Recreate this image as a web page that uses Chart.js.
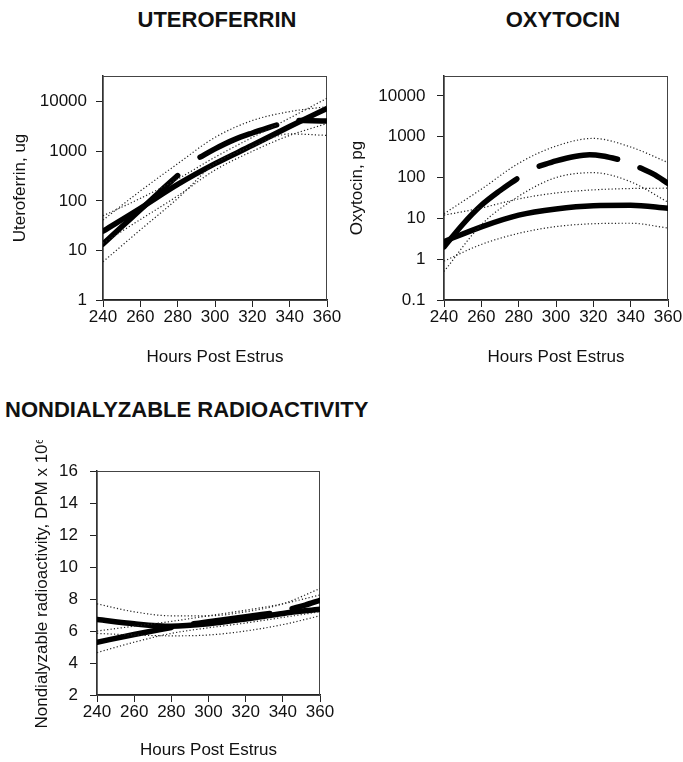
<!DOCTYPE html>
<html><head><meta charset="utf-8">
<script src="https://cdn.jsdelivr.net/npm/chart.js@4.4.1/dist/chart.umd.min.js"></script>
<style>
html,body{margin:0;padding:0;background:#fff;}
body{width:683px;height:762px;position:relative;overflow:hidden;font-family:"Liberation Sans",Arial,sans-serif;}
canvas{position:absolute;}
.t{position:absolute;font-weight:bold;font-size:22px;line-height:26px;color:#111;white-space:nowrap;}
</style></head><body>
<div class="t" style="left:0;width:434px;top:7px;text-align:center">UTEROFERRIN</div>
<div class="t" style="left:443px;width:240px;top:7px;text-align:center">OXYTOCIN</div>
<div class="t" style="left:5px;top:397px;">NONDIALYZABLE RADIOACTIVITY</div>
<canvas id="c1" width="345" height="308" style="left:0;top:60px"></canvas>
<canvas id="c2" width="343" height="308" style="left:340px;top:60px"></canvas>
<canvas id="c3" width="345" height="321" style="left:0;top:440px"></canvas>
<script>
// ---------- shared ----------
const hours = [240, 260, 280, 300, 320, 340, 360];
const xTicks = [240, 260, 280, 300, 320, 340, 360];

// ---------- UTEROFERRIN (ug) ----------
const uteroTicks = [1, 10, 100, 1000, 10000];
const uteroSolid = [24.5, 71, 214, 562, 1318, 3162, 7330];
const uteroSolidUpper = [50, 112, 275, 760, 1905, 4680, 11750];
const uteroSolidLower = [14, 42, 126, 417, 1000, 2090, 3630];
const uteroDashHours = [240, 250, 260, 270, 280, 286, 292, 300, 310, 320, 333, 339, 345, 352, 360];
const uteroDash = [13.5, 30, 66, 148, 324, null, 760, 1120, 1700, 2340, 3390, null, 4170, 4120, 4070];
const uteroDashUpper = [41, 158, 562, 1905, 4170, 6310, 7940];
const uteroDashLower = [5.9, 26, 112, 562, 1260, 2240, 2090];

// ---------- OXYTOCIN (pg) ----------
const oxyTicks = [0.1, 1, 10, 100, 1000, 10000];
const oxySolid = [2.7, 6.2, 12, 17, 20.4, 20.9, 17.8];
const oxySolidUpper = [12, 18, 30, 42, 50, 54, 55];
const oxySolidLower = [0.9, 2.3, 4.3, 6.3, 7.4, 7.6, 5.8];
const oxyDashHours = [240, 250, 260, 270, 279, 285, 291, 300, 310, 318, 325, 333, 339, 345, 352, 360];
const oxyDash = [2.0, 7.1, 20.9, 47.9, 93, null, 190, 257, 330, 363, 340, 282, null, 174, 123, 72];
const oxyDashUpper = [13, 52, 224, 590, 912, 562, 234];
const oxyDashLower = [0.5, 7, 35, 100, 132, 79, 25];

// ---------- NONDIALYZABLE RADIOACTIVITY (DPM x 10^6) ----------
const nondTicks = [2, 4, 6, 8, 10, 12, 14, 16];
const nondSolid = [6.72, 6.45, 6.3, 6.45, 6.75, 7.1, 7.36];
const nondSolidUpper = [7.7, 7.2, 6.95, 6.95, 7.2, 7.7, 8.65];
const nondSolidLower = [5.85, 5.75, 5.7, 5.75, 6.0, 6.4, 6.95];
const nondDashHours = [240, 260, 280, 286, 292, 300, 320, 333, 339, 345, 352, 360];
const nondDash = [5.3, 5.78, 6.22, null, 6.45, 6.58, 6.9, 7.1, null, 7.4, 7.62, 7.92];
const nondDashUpper = [6.0, 6.3, 6.6, 6.95, 7.3, 7.7, 8.25];
const nondDashLower = [4.65, 5.3, 5.85, 6.2, 6.5, 6.85, 7.2];

const FONT = "'Liberation Sans', Arial, Helvetica, sans-serif";
const pts = (xs, ys) => xs.map((x, i) => ({ x: x, y: ys[i] }));
const thick = d => ({ data: d, borderColor: '#000', borderWidth: 5.5, pointRadius: 0,
  borderCapStyle: 'round', borderJoinStyle: 'round', cubicInterpolationMode: 'monotone',
  fill: false, spanGaps: false });
const dotted = d => ({ data: d, borderColor: '#222', borderWidth: 1.2, borderDash: [1.2, 2.2],
  pointRadius: 0, cubicInterpolationMode: 'monotone', fill: false });

const boxPlugin = {
  id: 'box',
  beforeDatasetsDraw(chart) {
    const { ctx, chartArea: a } = chart;
    ctx.save();
    ctx.strokeStyle = '#444';
    ctx.lineWidth = 1;
    ctx.strokeRect(a.left, a.top + 0.5, a.right - a.left - 0.5, a.bottom - a.top);
    ctx.restore();
  }
};

function noPad(s) { s.paddingTop = 0; s.paddingBottom = 0; s.paddingLeft = 0; s.paddingRight = 0; }

function makeChart(id, c) {
  new Chart(document.getElementById(id), {
    type: 'line',
    data: { datasets: c.datasets },
    options: {
      responsive: false, animation: false, devicePixelRatio: 1,
      layout: { padding: { left: 0, top: c.padTop, right: c.padRight, bottom: 0 } },
      plugins: { legend: { display: false }, tooltip: { enabled: false } },
      scales: {
        x: {
          type: 'linear', min: 240, max: 360,
          afterBuildTicks: s => { s.ticks = xTicks.map(v => ({ value: v })); s.min = 240; s.max = 360; },
          ticks: { font: { family: FONT, size: 17 }, color: '#111', padding: 0, maxRotation: 0, autoSkip: false },
          grid: { display: true, drawOnChartArea: false, drawTicks: true, tickLength: 7, color: '#222' },
          border: { display: true, color: '#222', width: 1.5 },
          title: { display: true, text: 'Hours Post Estrus', font: { family: FONT, size: 17 }, color: '#111', padding: { top: 0, bottom: 0 } },
          afterFit: s => { s.height = c.xAxisH; noPad(s); }
        },
        y: {
          type: c.yType, min: c.yMin, max: c.yMax,
          afterBuildTicks: s => { s.ticks = c.yTicks.map(v => ({ value: v })); s.min = c.yMin; s.max = c.yMax; },
          ticks: { font: { family: FONT, size: 17 }, color: '#111', padding: c.yLabelPad, autoSkip: false,
                   callback: v => String(v) },
          grid: { display: true, drawOnChartArea: false, drawTicks: true, tickLength: 7, color: '#222' },
          border: { display: true, color: '#222', width: 1.5 },
          title: { display: true, text: c.yTitle, font: { family: FONT, size: 17 }, color: '#111', padding: { top: c.yTitlePad, bottom: 0 } },
          afterFit: s => { s.width = c.yAxisW; noPad(s); }
        }
      }
    },
    plugins: [boxPlugin]
  });
}

makeChart('c1', {
  datasets: [
    dotted(pts(hours, uteroSolidUpper)), dotted(pts(hours, uteroSolidLower)),
    dotted(pts(hours, uteroDashUpper)), dotted(pts(hours, uteroDashLower)),
    thick(pts(hours, uteroSolid)), thick(pts(uteroDashHours, uteroDash))
  ],
  yType: 'logarithmic', yMin: 1, yMax: 33000, yTicks: uteroTicks,
  yTitle: 'Uteroferrin, ug', yAxisW: 103, xAxisH: 68, padTop: 16, padRight: 18,
  yTitlePad: 9.8, yLabelPad: 9
});

makeChart('c2', {
  datasets: [
    dotted(pts(hours, oxySolidUpper)), dotted(pts(hours, oxySolidLower)),
    dotted(pts(hours, oxyDashUpper)), dotted(pts(hours, oxyDashLower)),
    thick(pts(hours, oxySolid)), thick(pts(oxyDashHours, oxyDash))
  ],
  yType: 'logarithmic', yMin: 0.1, yMax: 30900, yTicks: oxyTicks,
  yTitle: 'Oxytocin, pg', yAxisW: 104, xAxisH: 68, padTop: 16, padRight: 15,
  yTitlePad: 6.8, yLabelPad: 11.5
});

makeChart('c3', {
  datasets: [
    dotted(pts(hours, nondSolidUpper)), dotted(pts(hours, nondSolidLower)),
    dotted(pts(hours, nondDashUpper)), dotted(pts(hours, nondDashLower)),
    thick(pts(hours, nondSolid)), thick(pts(nondDashHours, nondDash))
  ],
  yType: 'linear', yMin: 2, yMax: 16, yTicks: nondTicks,
  yTitle: 'Nondialyzable radioactivity, DPM x 10\u2076', yAxisW: 97, xAxisH: 66, padTop: 31, padRight: 25,
  yTitlePad: 31.8, yLabelPad: 12
});
</script>
</body></html>
